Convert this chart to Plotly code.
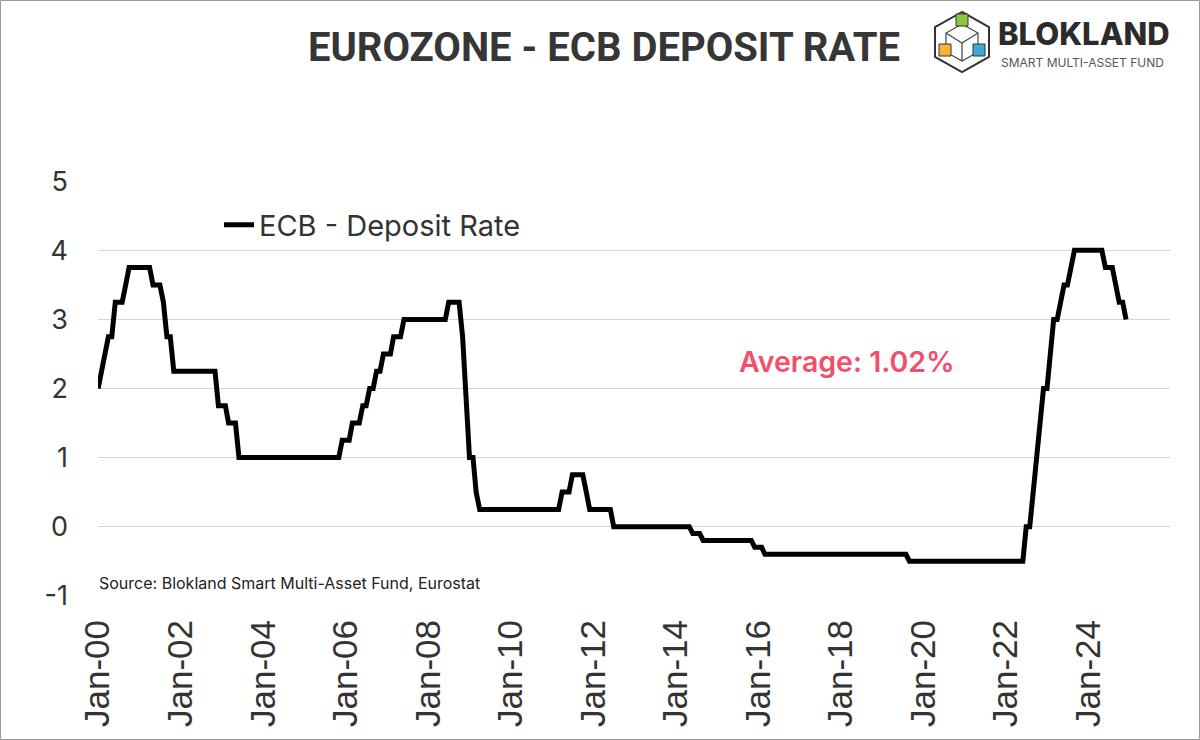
import plotly.graph_objects as go
import pandas as pd

# ---------------- data (month-end ECB deposit facility rate, %) ----------------
rate_2000 = [2.00, 2.25, 2.50, 2.75, 2.75, 3.25, 3.25, 3.25, 3.50, 3.75, 3.75, 3.75]
rate_2001 = [3.75, 3.75, 3.75, 3.75, 3.50, 3.50, 3.50, 3.25, 2.75, 2.75, 2.25, 2.25]
rate_2002 = [2.25, 2.25, 2.25, 2.25, 2.25, 2.25, 2.25, 2.25, 2.25, 2.25, 2.25, 1.75]
rate_2003 = [1.75, 1.75, 1.50, 1.50, 1.50, 1.00, 1.00, 1.00, 1.00, 1.00, 1.00, 1.00]
rate_2004 = [1.00, 1.00, 1.00, 1.00, 1.00, 1.00, 1.00, 1.00, 1.00, 1.00, 1.00, 1.00]
rate_2005 = [1.00, 1.00, 1.00, 1.00, 1.00, 1.00, 1.00, 1.00, 1.00, 1.00, 1.00, 1.25]
rate_2006 = [1.25, 1.25, 1.50, 1.50, 1.50, 1.75, 1.75, 2.00, 2.00, 2.25, 2.25, 2.50]
rate_2007 = [2.50, 2.50, 2.75, 2.75, 2.75, 3.00, 3.00, 3.00, 3.00, 3.00, 3.00, 3.00]
rate_2008 = [3.00, 3.00, 3.00, 3.00, 3.00, 3.00, 3.25, 3.25, 3.25, 3.25, 2.75, 2.00]
rate_2009 = [1.00, 1.00, 0.50, 0.25, 0.25, 0.25, 0.25, 0.25, 0.25, 0.25, 0.25, 0.25]
rate_2010 = [0.25, 0.25, 0.25, 0.25, 0.25, 0.25, 0.25, 0.25, 0.25, 0.25, 0.25, 0.25]
rate_2011 = [0.25, 0.25, 0.25, 0.50, 0.50, 0.50, 0.75, 0.75, 0.75, 0.75, 0.50, 0.25]
rate_2012 = [0.25, 0.25, 0.25, 0.25, 0.25, 0.25, 0.00, 0.00, 0.00, 0.00, 0.00, 0.00]
rate_2013 = [0.00, 0.00, 0.00, 0.00, 0.00, 0.00, 0.00, 0.00, 0.00, 0.00, 0.00, 0.00]
rate_2014 = [0.00, 0.00, 0.00, 0.00, 0.00, -0.10, -0.10, -0.10, -0.20, -0.20, -0.20, -0.20]
rate_2015 = [-0.20, -0.20, -0.20, -0.20, -0.20, -0.20, -0.20, -0.20, -0.20, -0.20, -0.20, -0.30]
rate_2016 = [-0.30, -0.30, -0.40, -0.40, -0.40, -0.40, -0.40, -0.40, -0.40, -0.40, -0.40, -0.40]
rate_2017 = [-0.40, -0.40, -0.40, -0.40, -0.40, -0.40, -0.40, -0.40, -0.40, -0.40, -0.40, -0.40]
rate_2018 = [-0.40, -0.40, -0.40, -0.40, -0.40, -0.40, -0.40, -0.40, -0.40, -0.40, -0.40, -0.40]
rate_2019 = [-0.40, -0.40, -0.40, -0.40, -0.40, -0.40, -0.40, -0.40, -0.50, -0.50, -0.50, -0.50]
rate_2020 = [-0.50, -0.50, -0.50, -0.50, -0.50, -0.50, -0.50, -0.50, -0.50, -0.50, -0.50, -0.50]
rate_2021 = [-0.50, -0.50, -0.50, -0.50, -0.50, -0.50, -0.50, -0.50, -0.50, -0.50, -0.50, -0.50]
rate_2022 = [-0.50, -0.50, -0.50, -0.50, -0.50, -0.50, 0.00, 0.00, 0.50, 1.00, 1.50, 2.00]
rate_2023 = [2.00, 2.50, 3.00, 3.00, 3.25, 3.50, 3.50, 3.75, 4.00, 4.00, 4.00, 4.00]
rate_2024 = [4.00, 4.00, 4.00, 4.00, 4.00, 3.75, 3.75, 3.75, 3.50, 3.25, 3.25, 3.00]

rate = (rate_2000 + rate_2001 + rate_2002 + rate_2003 + rate_2004 + rate_2005 + rate_2006
        + rate_2007 + rate_2008 + rate_2009 + rate_2010 + rate_2011 + rate_2012 + rate_2013
        + rate_2014 + rate_2015 + rate_2016 + rate_2017 + rate_2018 + rate_2019 + rate_2020
        + rate_2021 + rate_2022 + rate_2023 + rate_2024)
months = pd.date_range("2000-01-01", periods=len(rate), freq="MS")

series_name = "ECB - Deposit Rate"
title_text = "EUROZONE - ECB DEPOSIT RATE"
average_text = "Average: 1.02%"
source_text = "Source: Blokland Smart Multi-Asset Fund, Eurostat"
logo_name = "BLOKLAND"
logo_tagline = "SMART MULTI-ASSET FUND"
y_ticks = [-1, 0, 1, 2, 3, 4, 5]
y_tick_labels = ["-1", "0", "1", "2", "3", "4", "5"]

# ---------------- layout geometry ----------------
W, H = 1200, 740
L, R, T, B = 98, 30, 181, 144
PW, PH = W - L - R, H - T - B


def xp(px):
    return (px - L) / PW


def yp(py):
    return (H - B - py) / PH


fig = go.Figure()
fig.add_trace(go.Scatter(
    x=months, y=rate, mode="lines", name=series_name,
    line=dict(color="#000000", width=5),
))

TXT = "#333333"

fig.update_layout(
    width=W, height=H,
    margin=dict(l=L, r=R, t=T, b=B),
    paper_bgcolor="white", plot_bgcolor="white",
    title=dict(
        text=title_text, x=604 / W, xanchor="center", xref="container",
        y=1 - 47 / H, yanchor="middle", yref="container",
        font=dict(family="Roboto, Liberation Sans, sans-serif",
                  size=40, color="#363636", weight=700),
    ),
    showlegend=True,
    legend=dict(
        x=xp(219), y=yp(225), xanchor="left", yanchor="middle",
        bgcolor="rgba(0,0,0,0)", borderwidth=0,
        font=dict(family="Inter, Roboto, sans-serif", size=29, color=TXT),
        itemwidth=30,
    ),
    xaxis=dict(
        type="date", range=["1999-12-31", "2025-12-25"],
        tick0="2000-01-01", dtick="M24", tickformat="%b-%y", tickangle=-90,
        tickfont=dict(family="Liberation Sans, Arial, sans-serif", size=35, color=TXT),
        showgrid=False, zeroline=False, showline=False, ticks="",
        ticklabelstandoff=16,
    ),
    yaxis=dict(
        range=[-1.004, 5.004], tickvals=y_ticks, ticktext=y_tick_labels,
        tickfont=dict(family="Inter, Roboto, sans-serif", size=27, color=TXT),
        showgrid=True, gridcolor="#d6d6d6", gridwidth=1,
        zeroline=False, showline=False, ticks="",
        ticklabelstandoff=29,
    ),
)

annotations = [
    dict(text=average_text, x=xp(847), y=yp(361), xref="paper", yref="paper",
         xanchor="center", yanchor="middle", showarrow=False,
         font=dict(family="Inter, Roboto, sans-serif", size=28.5, color="#F0506A", weight=600)),
    dict(text=source_text, x=xp(97), y=yp(583), xref="paper", yref="paper",
         xanchor="left", yanchor="middle", showarrow=False,
         font=dict(family="Inter, Roboto, sans-serif", size=16, color="#222222")),
    dict(text=logo_name, x=xp(996), y=yp(34), xref="paper", yref="paper",
         xanchor="left", yanchor="middle", showarrow=False,
         font=dict(family="Inter, Roboto, sans-serif", size=31, color="#2b2b2b", weight=800)),
    dict(text=logo_tagline, x=xp(999), y=yp(62.5), xref="paper", yref="paper",
         xanchor="left", yanchor="middle", showarrow=False,
         font=dict(family="Inter, Roboto, sans-serif", size=12, color="#555555")),
]
fig.update_layout(annotations=annotations)

shapes = []
# outer frame
shapes.append(dict(type="rect", xref="paper", yref="paper",
                   x0=xp(0.5), x1=xp(W - 0.5), y0=yp(H - 0.5), y1=yp(0.5),
                   line=dict(color="#9a9a9a", width=1), fillcolor="rgba(0,0,0,0)", layer="above"))


def path_from(points, close=True):
    s = "M " + " L ".join(f"{xp(px):.5f},{yp(py):.5f}" for px, py in points)
    return s + (" Z" if close else "")


cx, cy = 962, 42
hexagon = [(cx, 12), (cx - 27, 27), (cx - 27, 57), (cx, 72), (cx + 27, 57), (cx + 27, 27)]
shapes.append(dict(type="path", xref="paper", yref="paper", path=path_from(hexagon),
                   line=dict(color="#333333", width=2), fillcolor="rgba(0,0,0,0)"))
inner = [(cx, 24), (cx - 16, 33), (cx - 16, 52), (cx, 61), (cx + 16, 52), (cx + 16, 33)]
shapes.append(dict(type="path", xref="paper", yref="paper", path=path_from(inner),
                   line=dict(color="#444444", width=1.2), fillcolor="rgba(0,0,0,0)"))
for px2, py2 in [(cx - 16, 33), (cx + 16, 33), (cx, 61)]:
    shapes.append(dict(type="line", xref="paper", yref="paper",
                       x0=xp(cx), y0=yp(43), x1=xp(px2), y1=yp(py2),
                       line=dict(color="#444444", width=1.2)))
for (bx, by, col) in [(cx, 20, "#8DC63F"), (cx - 17, 50, "#F5B335"), (cx + 17, 50, "#3FA9D6")]:
    shapes.append(dict(type="rect", xref="paper", yref="paper",
                       x0=xp(bx - 6), x1=xp(bx + 6), y0=yp(by + 6), y1=yp(by - 6),
                       line=dict(color="#333333", width=1), fillcolor=col))

fig.update_layout(shapes=shapes)

fig.write_html("out.html", config={"displayModeBar": False},
               post_script="document.body.style.margin='0px';")
